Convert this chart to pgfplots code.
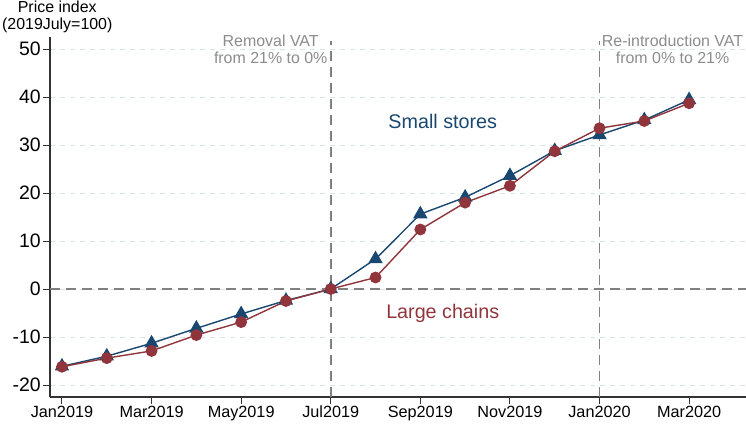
\documentclass[border=0pt]{standalone}
\usepackage{pgfplots}
\pgfplotsset{compat=1.18}
\usepackage{fontspec}
\setmainfont{Liberation Sans}
\definecolor{navy}{RGB}{26,71,111}
\definecolor{maroon}{RGB}{144,53,59}
\definecolor{refgray}{RGB}{128,128,128}
\definecolor{annot}{RGB}{140,140,140}
\definecolor{gridc}{RGB}{214,229,232}
\begin{document}
\begin{tikzpicture}
\begin{axis}[
 scale only axis, width=696bp, height=360bp,
 xmin=-0.268, xmax=15.27, ymin=-22.5, ymax=52.5,
 axis x line=bottom, axis y line=left,
 axis line style={-, line width=1.1bp, black!80},
 xtick={0,2,...,14},
 xticklabels={Jan2019,Mar2019,May2019,Jul2019,Sep2019,Nov2019,Jan2020,Mar2020},
 ytick={-20,-10,...,50},
 tick align=outside, major tick length=7bp,
 tick style={black!80, line width=1bp},
 ymajorgrids, grid style={gridc, dash pattern=on 5bp off 5bp, line width=0.9bp},
 xticklabel style={font=\fontsize{16.3}{16.3}\selectfont, inner sep=2bp},
 yticklabel style={font=\fontsize{19.5}{19.5}\selectfont, inner sep=2bp},
 /pgf/number format/assume math mode=true,
 clip=false,
]
\addplot[navy, line width=1.4bp, mark=triangle*, mark size=7bp, mark options={solid, fill=navy}] coordinates {
(0,-16.1)(1,-14.0)(2,-11.3)(3,-8.2)(4,-5.2)(5,-2.4)(6,0)(7,6.25)(8,15.6)(9,19.1)(10,23.6)(11,28.8)(12,32.1)(13,35.2)(14,39.4)
};
\addplot[maroon, line width=1.4bp, mark=*, mark size=5.2bp, mark options={solid, fill=maroon}] coordinates {
(0,-16.2)(1,-14.4)(2,-12.9)(3,-9.6)(4,-6.9)(5,-2.5)(6,0)(7,2.4)(8,12.4)(9,18.0)(10,21.5)(11,28.7)(12,33.5)(13,35.0)(14,38.7)
};
\draw[refgray, line width=1.6bp, dash pattern=on 10bp off 6bp] (axis cs:-0.268,0) -- (axis cs:15.27,0);
\draw[refgray, line width=1.6bp, dash pattern=on 10bp off 6bp] (axis cs:6,-22.5) -- (axis cs:6,51.6);
\draw[refgray, line width=1.6bp, dash pattern=on 10bp off 6bp] (axis cs:12,-22.5) -- (axis cs:12,51.6);
\node[anchor=north east, align=center, text=annot, font=\fontsize{16}{16.5}\selectfont, inner sep=0] at (axis cs:5.93,52.9) {Removal VAT\\from 21\% to 0\%};
\node[anchor=north west, align=center, text=annot, font=\fontsize{16}{16.5}\selectfont, inner sep=0] at (axis cs:12.05,52.9) {Re-introduction VAT\\from 0\% to 21\%};
\node[text=navy, font=\fontsize{19.8}{20}\selectfont] at (axis cs:8.5,34.9) {Small stores};
\node[text=maroon, font=\fontsize{19.8}{20}\selectfont] at (axis cs:8.5,-5) {Large chains};
\node[anchor=north, align=center, font=\fontsize{16}{16.5}\selectfont, inner sep=0] at (rel axis cs:0.0105,1.1) {Price index\\(2019July=100)};
\coordinate (bbsw) at (rel axis cs:-0.0718,-0.0778);
\coordinate (bbne) at (rel axis cs:1,1.1028);
\end{axis}
\pgfresetboundingbox
\path[use as bounding box] (bbsw) rectangle (bbne);
\end{tikzpicture}
\end{document}
